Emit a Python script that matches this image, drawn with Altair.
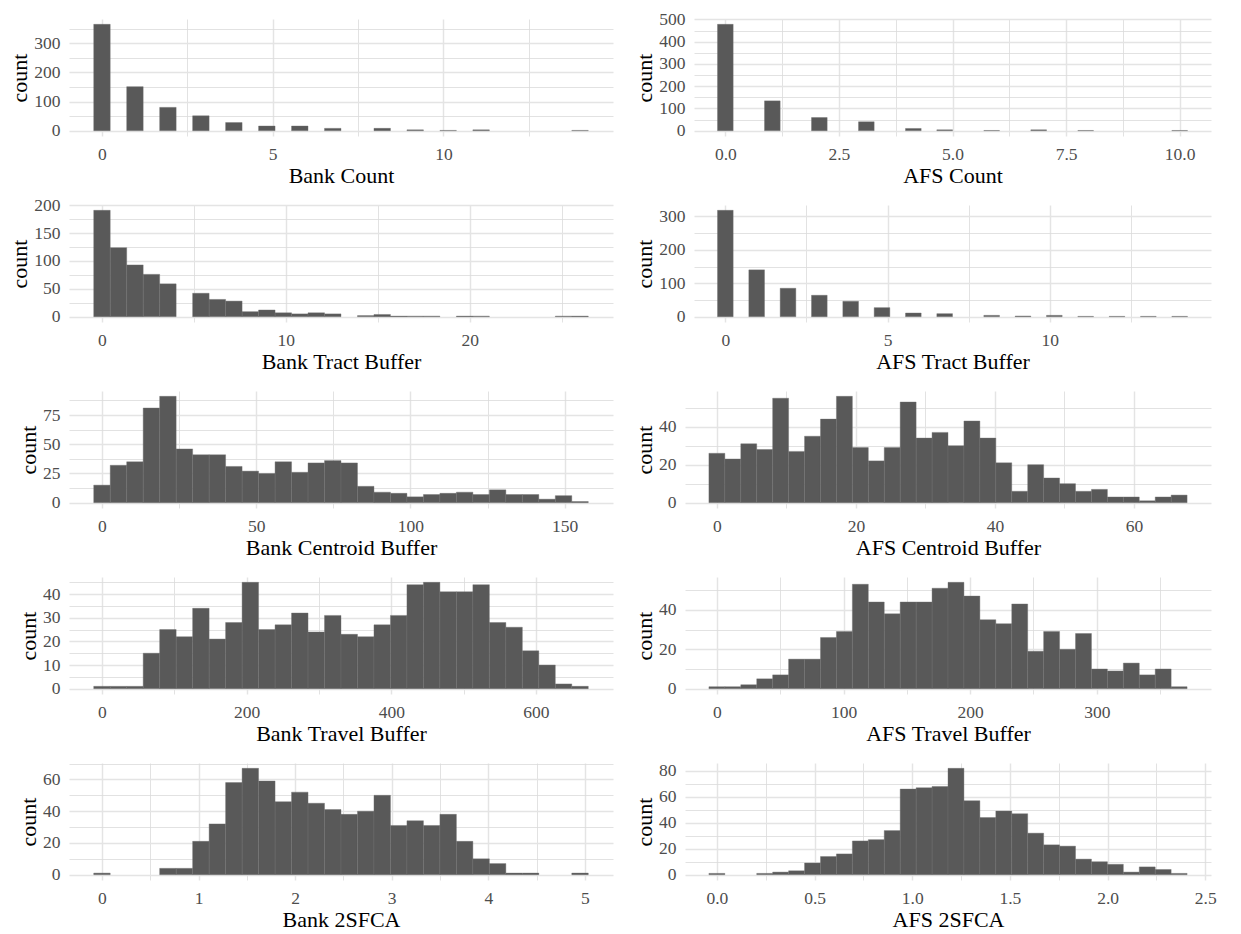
import altair as alt
import pandas as pd

# ---------------- data ----------------
titles = ["Bank Count", "AFS Count", "Bank Tract Buffer", "AFS Tract Buffer",
          "Bank Centroid Buffer", "AFS Centroid Buffer", "Bank Travel Buffer",
          "AFS Travel Buffer", "Bank 2SFCA", "AFS 2SFCA"]

# centre of the last of the 30 bins (first bin is centred on 0)
bin_max = [14, 10, 26, 14, 155, 66.5, 661, 365, 4.95, 2.366]

bank_count = [365, 0, 151, 0, 80, 0, 51, 0, 28, 0, 16, 0, 16, 0, 8,
              0, 0, 8, 0, 3, 0, 1, 0, 3, 0, 0, 0, 0, 0, 1]
afs_count = [478, 0, 0, 134, 0, 0, 59, 0, 0, 40, 0, 0, 10, 0, 4,
             0, 0, 1, 0, 0, 4, 0, 0, 1, 0, 0, 0, 0, 0, 1]
bank_tract = [191, 124, 93, 76, 59, 0, 42, 31, 28, 9, 12, 7, 5, 7, 5,
              0, 2, 4, 1, 1, 1, 0, 1, 1, 0, 0, 0, 0, 1, 1]
afs_tract = [318, 0, 140, 0, 85, 0, 64, 0, 46, 0, 27, 0, 11, 0, 9,
             0, 0, 4, 0, 2, 0, 4, 0, 1, 0, 1, 0, 1, 0, 1]
bank_centroid = [15, 32, 35, 81, 91, 46, 41, 41, 31, 27, 25, 35, 26, 34, 36,
                 34, 14, 9, 8, 5, 7, 8, 9, 7, 11, 7, 7, 3, 6, 1]
afs_centroid = [26, 23, 31, 28, 55, 27, 35, 44, 56, 29, 22, 29, 53, 34, 37,
                30, 43, 34, 21, 6, 20, 13, 10, 6, 7, 3, 3, 1, 3, 4]
bank_travel = [1, 1, 1, 15, 25, 22, 34, 21, 28, 45, 25, 27, 32, 24, 31,
               23, 22, 27, 31, 44, 45, 41, 41, 44, 28, 26, 16, 10, 2, 1]
afs_travel = [1, 1, 2, 5, 7, 15, 15, 26, 29, 53, 44, 38, 44, 44, 51,
              54, 47, 35, 33, 43, 19, 29, 20, 28, 10, 9, 13, 7, 10, 1]
bank_2sfca = [1, 0, 0, 0, 4, 4, 21, 32, 58, 67, 59, 46, 52, 45, 41,
              38, 40, 50, 31, 34, 31, 38, 21, 10, 7, 1, 1, 0, 0, 1]
afs_2sfca = [1, 0, 0, 1, 2, 3, 9, 14, 16, 26, 27, 34, 66, 67, 68,
             82, 57, 44, 49, 47, 32, 23, 22, 12, 10, 8, 2, 6, 4, 1]

panel_counts = [bank_count, afs_count, bank_tract, afs_tract, bank_centroid,
                afs_centroid, bank_travel, afs_travel, bank_2sfca, afs_2sfca]

# axis ticks (major = labelled, minor = grid only)
x_major = [[0, 5, 10], [0, 2.5, 5, 7.5, 10], [0, 10, 20], [0, 5, 10],
           [0, 50, 100, 150], [0, 20, 40, 60], [0, 200, 400, 600],
           [0, 100, 200, 300], [0, 1, 2, 3, 4, 5], [0, 0.5, 1, 1.5, 2, 2.5]]
x_minor = [[2.5, 7.5, 12.5], [1.25, 3.75, 6.25, 8.75], [5, 15, 25], [2.5, 7.5, 12.5],
           [25, 75, 125], [10, 30, 50], [100, 300, 500], [50, 150, 250, 350],
           [0.5, 1.5, 2.5, 3.5, 4.5], [0.25, 0.75, 1.25, 1.75, 2.25]]
x_fmt = ["d", ".1f", "d", "d", "d", "d", "d", "d", "d", ".1f"]
y_major = [[0, 100, 200, 300], [0, 100, 200, 300, 400, 500], [0, 50, 100, 150, 200],
           [0, 100, 200, 300], [0, 25, 50, 75], [0, 20, 40], [0, 10, 20, 30, 40],
           [0, 20, 40], [0, 20, 40, 60], [0, 20, 40, 60, 80]]
y_minor = [[50, 150, 250, 350], [50, 150, 250, 350, 450], [25, 75, 125, 175],
           [50, 150, 250], [12.5, 37.5, 62.5, 87.5], [10, 30, 50], [5, 15, 25, 35, 45],
           [10, 30, 50], [10, 30, 50, 70], [10, 30, 50, 70]]

# plot-area sizes
panel_w = [544, 517, 544, 517, 544, 526, 544, 526, 544, 526]
panel_h = 117

FONT = "Liberation Serif"


def make_axis(major, minor, fmt, lab_pad, title_pad):
    vals = sorted(major + minor)
    arr = "[" + ",".join(repr(float(v)) for v in major) + "]"
    test = f"indexof({arr}, datum.value) >= 0"
    return alt.Axis(
        values=vals,
        labelExpr=f"{test} ? format(datum.value, '{fmt}') : ''",
        gridWidth={"condition": {"test": test, "value": 1.5}, "value": 0.8},
        gridColor={"condition": {"test": test, "value": "#E4E4E4"}, "value": "#DADADA"},
        labelOverlap=False,
        labelFlush=False,
        labelPadding=lab_pad,
        titlePadding=title_pad,
        labelFont=FONT,
        labelFontSize=17.5,
        labelColor="#4D4D4D",
        titleFont=FONT,
        titleFontSize=22,
        titleFontWeight="normal",
        titleColor="#000000",
        domain=False,
        ticks=False,
    )


def panel(i):
    counts = panel_counts[i]
    mx = bin_max[i]
    w = mx / (len(counts) - 1)
    rows = [{"start": (k - 0.5) * w, "end": (k + 0.5) * w, "count": c, "base": 0}
            for k, c in enumerate(counts) if c > 0]
    df = pd.DataFrame(rows)
    lo, hi = -0.5 * w, mx + 0.5 * w
    ex = 0.05 * (hi - lo)
    ymax = max(counts)
    return alt.Chart(df).mark_rect(
        color="#595959", stroke="#6E6E6E", strokeWidth=0.4
    ).encode(
        x=alt.X("start:Q",
                scale=alt.Scale(domain=[lo - ex, hi + ex], nice=False, zero=False),
                axis=make_axis(x_major[i], x_minor[i], x_fmt[i], 9, 3),
                title=titles[i]),
        x2="end:Q",
        y=alt.Y("count:Q",
                scale=alt.Scale(domain=[-0.05 * ymax, 1.05 * ymax], nice=False, zero=False),
                axis=make_axis(y_major[i], y_minor[i], "d", 9, 2),
                title="count"),
        y2="base:Q",
    ).properties(width=panel_w[i], height=panel_h)


chart = alt.ConcatChart(
    concat=[panel(i) for i in range(10)],
    columns=2,
    align=alt.RowColLayoutAlign(row="all", column="none"),
    spacing=alt.RowColnumber(row=9, column=20),
).properties(
    padding={"left": 0, "top": 2, "right": 0, "bottom": 0},
    background="white",
).configure_view(
    stroke=None
).configure_axis(
    labelFont=FONT, labelFontSize=17.5, labelColor="#4D4D4D",
    titleFont=FONT, titleFontSize=22, titleFontWeight="normal", titleColor="#000000",
)

chart.save("out.html", embed_options={"renderer": "svg", "actions": False})
